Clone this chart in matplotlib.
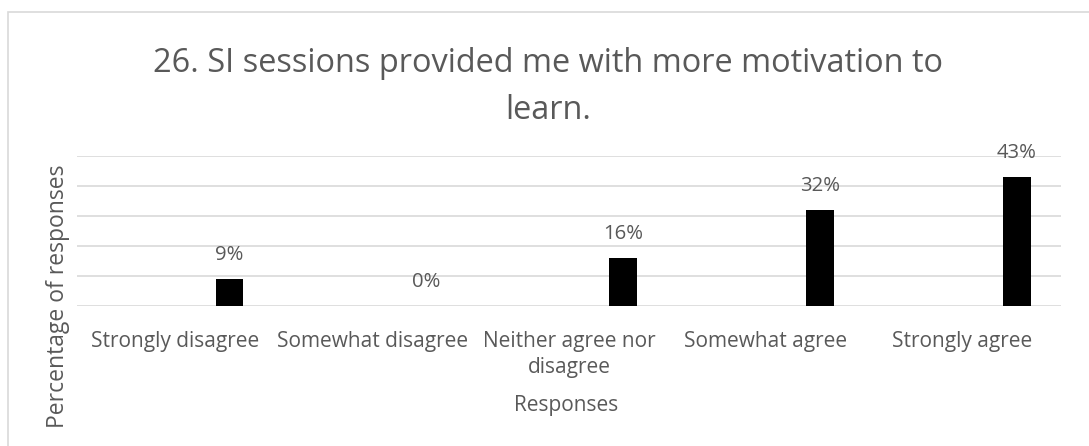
import matplotlib.pyplot as plt
import numpy as np
from matplotlib.patches import Rectangle

categories = ['Strongly disagree', 'Somewhat disagree', 'Neither agree nor\ndisagree',
              'Somewhat agree', 'Strongly agree']
percent = [9, 0, 16, 32, 43]
title = '26. SI sessions provided me with more motivation to\nlearn.'

grey = '#595959'
grid = '#d9d9d9'
plt.rcParams['font.family'] = ['Open Sans', 'DejaVu Sans']

fig = plt.figure(figsize=(10.89, 4.46), dpi=100)
ax = fig.add_axes([77/1089, 1 - 306/446, 984/1089, 150/446])

x = np.arange(len(categories))
bars = ax.bar(x + 0.275, percent, width=0.142, color='black', zorder=3)
for b, v in zip(bars, percent):
    ax.annotate(f'{v}%', (b.get_x() + b.get_width()/2, b.get_height()),
                xytext=(0, 17), textcoords='offset points',
                ha='center', va='center', fontsize=14.6, color=grey)

ax.set_xlim(-0.5, len(categories) - 0.5)
ax.set_ylim(0, 50)
ax.set_yticks(np.arange(0, 51, 10))
ax.set_yticklabels([])
ax.set_xticks(x)
ax.set_xticklabels(categories, fontsize=15, color=grey, linespacing=1.3)
ax.tick_params(length=0)
ax.tick_params(axis='x', pad=18)
ax.grid(axis='y', color=grid, lw=1.2, zorder=0)
for s in ax.spines.values():
    s.set_visible(False)

fig.text(0.503, 1 - 87/446, title, ha='center', va='center',
         fontsize=23.4, color=grey, linespacing=1.58)
fig.text(566/1089, 1 - 406/446, 'Responses', ha='center', va='center',
         fontsize=15, color=grey)
fig.text(58/1089, 1 - 296/446, 'Percentage of responses', ha='center', va='center',
         rotation=90, fontsize=16.5, color=grey)

# light frame around the chart area
fig.patches.append(Rectangle((8/1089, -0.05), 1.05, 0.05 + 1 - 12/446,
                             transform=fig.transFigure, fill=False,
                             edgecolor=grid, lw=1.2))

fig.savefig('out.png', dpi=100)
